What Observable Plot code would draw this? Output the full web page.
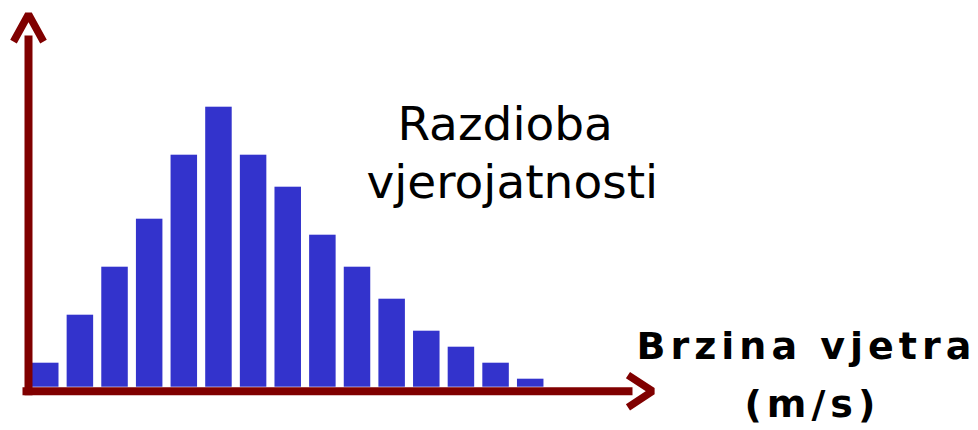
<!DOCTYPE html>
<html><head><meta charset="utf-8">
<script src="https://cdn.jsdelivr.net/npm/d3@7"></script>
<script src="https://cdn.jsdelivr.net/npm/@observablehq/plot@0.6"></script>
<style>
html,body{margin:0;padding:0;background:#fff;}
svg{display:block;}
svg g[font-weight="bold"] text{letter-spacing:5px;}
</style>
</head><body><div id="chart"></div>
<script>
// Histogram classes (wind speed bins) and relative frequencies
const bins = [0,1,2,3,4,5,6,7,8,9,10,11,12,13,14];
const probability = [3,9,15,21,29,35,29,25,19,15,11,7,5,3,1];
const titleLines = ["Razdioba", "vjerojatnosti"];
const axisLabelLines = ["Brzina vjetra", "(m/s)"];

// axis arrows in data units
const yAxisShaft = [{x1: -0.1155, y1: -1.0, x2: -0.1155, y2: 43.96}];
const xAxisShaft = [{x1: -0.2887, y1: -0.5, x2: 17.321, y2: -0.5}];
const yArrowHead = [{x: -0.5485, y: 43.2}, {x: -0.1155, y: 46.6}, {x: 0.3176, y: 43.2}];
const xArrowHead = [{x: 17.19, y: 1.52}, {x: 17.90, y: -0.5}, {x: 17.19, y: -2.52}];

const data = bins.map((b, i) => ({bin: b, p: probability[i]}));
const red = "#800000";

const plot = Plot.plot({
  width: 978,
  height: 430,
  margin: 0,
  x: {domain: [0, 15], range: [32, 32 + 34.64 * 15], axis: null},
  y: {domain: [0, 35], range: [386.7, 106.7], axis: null},
  marks: [
    Plot.rectY(data, {x1: d => d.bin, x2: d => d.bin + 0.765, y: "p", fill: "#3333cc"}),
    Plot.link(yAxisShaft, {x1: "x1", y1: "y1", x2: "x2", y2: "y2", stroke: red, strokeWidth: 8, strokeLinecap: "butt"}),
    Plot.link(xAxisShaft, {x1: "x1", y1: "y1", x2: "x2", y2: "y2", stroke: red, strokeWidth: 8, strokeLinecap: "butt"}),
    Plot.line(yArrowHead, {x: "x", y: "y", stroke: red, strokeWidth: 7.5, strokeLinejoin: "miter", strokeLinecap: "butt", curve: "linear"}),
    Plot.line(xArrowHead, {x: "x", y: "y", stroke: red, strokeWidth: 7.5, strokeLinejoin: "miter", strokeLinecap: "butt", curve: "linear"}),
    Plot.text([titleLines[0]], {frameAnchor: "top-left", dx: 397, dy: 139.5, text: d => d, textAnchor: "start", lineAnchor: "bottom", fontSize: 47, fontFamily: "DejaVu Sans", fill: "#000"}),
    Plot.text([titleLines[1]], {frameAnchor: "top-left", dx: 366, dy: 197, text: d => d, textAnchor: "start", lineAnchor: "bottom", fontSize: 47, fontFamily: "DejaVu Sans", fill: "#000"}),
    Plot.text([axisLabelLines[0]], {frameAnchor: "top-left", dx: 636, dy: 358.5, text: d => d, textAnchor: "start", lineAnchor: "bottom", fontSize: 38, fontWeight: "bold", fontFamily: "DejaVu Sans", fill: "#000"}),
    Plot.text([axisLabelLines[1]], {frameAnchor: "top-left", dx: 744, dy: 416.7, text: d => d, textAnchor: "start", lineAnchor: "bottom", fontSize: 38, fontWeight: "bold", fontFamily: "DejaVu Sans", fill: "#000"})
  ]
});
document.getElementById("chart").appendChild(plot);
</script>
</body></html>
